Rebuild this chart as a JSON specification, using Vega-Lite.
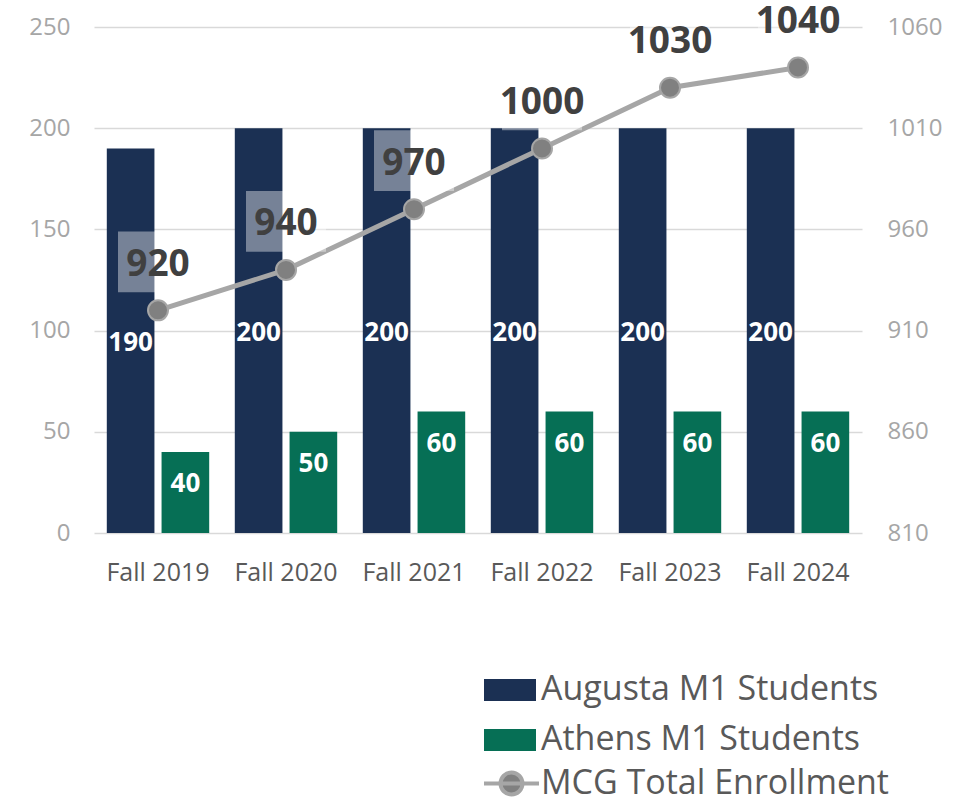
{
  "$schema": "https://vega.github.io/schema/vega-lite/v6.json",
  "width": 768,
  "height": 506,
  "autosize": {"type": "none"},
  "padding": {"left": 94, "top": 27, "right": 99, "bottom": 266},
  "background": "white",
  "config": {
    "font": "Open Sans",
    "view": {"stroke": null},
    "axis": {"labelFont": "Open Sans", "title": null}
  },
  "data": {
    "values": [
      {"term": "Fall 2019", "Augusta M1 Students": 190, "Athens M1 Students": 40, "total": 920},
      {"term": "Fall 2020", "Augusta M1 Students": 200, "Athens M1 Students": 50, "total": 940},
      {"term": "Fall 2021", "Augusta M1 Students": 200, "Athens M1 Students": 60, "total": 970},
      {"term": "Fall 2022", "Augusta M1 Students": 200, "Athens M1 Students": 60, "total": 1000},
      {"term": "Fall 2023", "Augusta M1 Students": 200, "Athens M1 Students": 60, "total": 1030},
      {"term": "Fall 2024", "Augusta M1 Students": 200, "Athens M1 Students": 60, "total": 1040}
    ]
  },
  "encoding": {
    "x": {
      "field": "term",
      "type": "nominal",
      "sort": null,
      "scale": {"paddingInner": 0.2, "paddingOuter": 0.1},
      "axis": {
        "domain": false,
        "ticks": false,
        "labelAngle": 0,
        "labelColor": "#595959",
        "labelFontSize": 25,
        "labelPadding": 27,
        "title": null
      }
    }
  },
  "layer": [
    {
      "layer": [
        {
          "transform": [{"fold": ["Augusta M1 Students", "Athens M1 Students"], "as": ["series", "value"]}],
          "mark": {"type": "bar"},
          "encoding": {
            "y": {
              "field": "value",
              "type": "quantitative",
              "stack": null,
              "scale": {"domain": [0, 250], "nice": false},
              "axis": {
                "values": [0, 50, 100, 150, 200, 250],
                "grid": true,
                "gridColor": "#d9d9d9",
                "gridWidth": 1.5,
                "domain": false,
                "ticks": false,
                "labelColor": "#a6a6a6",
                "labelFontSize": 24,
                "labelPadding": 24,
                "title": null
              }
            },
            "xOffset": {
              "field": "series",
              "type": "nominal",
              "sort": ["Augusta M1 Students", "Athens M1 Students"],
              "scale": {"paddingInner": 0.13, "paddingOuter": 0}
            },
            "color": {
              "field": "series",
              "type": "nominal",
              "sort": ["Augusta M1 Students", "Athens M1 Students"],
              "scale": {"domain": ["Augusta M1 Students", "Athens M1 Students"], "range": ["#1b3053", "#066f55"]},
              "legend": {
                "orient": "none",
                "legendX": 396,
                "legendY": 643,
                "title": null,
                "padding": 0,
                "symbolType": "M-1.3,-0.55H1.3V0.55H-1.3Z",
                "symbolSize": 1600,
                "symbolStrokeWidth": 0,
                "labelFont": "Open Sans",
                "labelFontSize": 34,
                "labelColor": "#595959",
                "labelOffset": 11,
                "labelLimit": 600,
                "rowPadding": 13
              }
            }
          }
        },
        {
          "mark": {"type": "text", "color": "white", "fontWeight": "bold", "fontSize": 26, "baseline": "middle", "dx": -27.4, "dy": 2},
          "encoding": {
            "y": {"field": "Augusta M1 Students", "type": "quantitative", "stack": "zero", "bandPosition": 0.5, "scale": {"domain": [0, 250], "nice": false}},
            "text": {"field": "Augusta M1 Students", "type": "quantitative"}
          }
        },
        {
          "mark": {"type": "text", "color": "white", "fontWeight": "bold", "fontSize": 26, "baseline": "middle", "dx": 27.4, "dy": 32},
          "encoding": {
            "y": {"field": "Athens M1 Students", "type": "quantitative", "scale": {"domain": [0, 250], "nice": false}},
            "text": {"field": "Athens M1 Students", "type": "quantitative"}
          }
        }
      ]
    },
    {
      "layer": [
        {
          "mark": {"type": "line", "strokeWidth": 5},
          "encoding": {
            "y": {
              "field": "total",
              "type": "quantitative",
              "scale": {"domain": [810, 1060], "nice": false},
              "axis": {
                "orient": "right",
                "values": [810, 860, 910, 960, 1010, 1060],
                "format": "d",
                "grid": false,
                "domain": false,
                "ticks": false,
                "labelColor": "#a6a6a6",
                "labelFontSize": 24,
                "labelPadding": 25,
                "title": null
              }
            },
            "stroke": {
              "datum": "MCG Total Enrollment",
              "scale": {"range": ["#a6a6a6"]},
              "legend": {
                "orient": "none",
                "legendX": 388,
                "legendY": 727,
                "title": null,
                "padding": 0,
                "symbolType": "M-1,0H1M0.4,0A0.4,0.4 0 1,1 -0.4,0A0.4,0.4 0 1,1 0.4,0Z",
                "symbolSize": 3025,
                "symbolStrokeWidth": 4,
                "symbolFillColor": "#808080",
                "labelFont": "Open Sans",
                "labelFontSize": 34,
                "labelColor": "#595959",
                "labelOffset": 0,
                "labelLimit": 600
              }
            }
          }
        },
        {
          "mark": {"type": "point", "filled": true, "fill": "#808080", "stroke": "#a6a6a6", "strokeWidth": 2, "size": 400, "opacity": 1},
          "encoding": {"y": {"field": "total", "type": "quantitative", "scale": {"domain": [810, 1060], "nice": false}}}
        },
        {
          "mark": {"type": "point", "shape": "M-1,-0.76H1V0.76H-1Z", "size": 6400, "filled": true, "fill": "white", "fillOpacity": 0.4, "strokeWidth": 0, "yOffset": -48.5},
          "encoding": {"y": {"field": "total", "type": "quantitative", "scale": {"domain": [810, 1060], "nice": false}}}
        },
        {
          "mark": {"type": "text", "fontSize": 37, "fontWeight": "bold", "color": "#404040", "baseline": "middle", "dy": -45.5},
          "encoding": {
            "y": {"field": "total", "type": "quantitative", "scale": {"domain": [810, 1060], "nice": false}},
            "text": {"field": "total", "type": "quantitative"}
          }
        }
      ]
    }
  ],
  "resolve": {"scale": {"y": "independent"}}
}
